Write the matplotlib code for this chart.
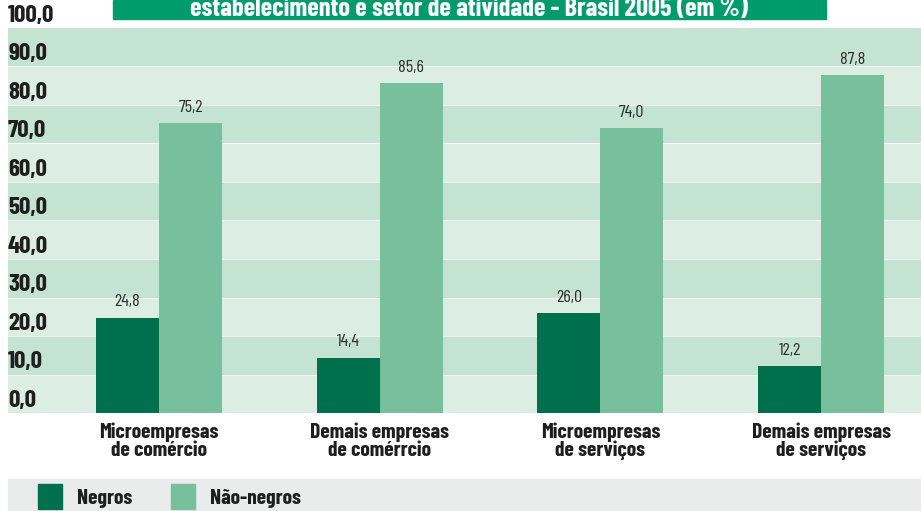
import matplotlib
matplotlib.use("Agg")
import matplotlib.pyplot as plt
from matplotlib.patches import Rectangle
from matplotlib import font_manager

categories = ["Microempresas\nde comércio", "Demais empresas\nde comérrcio",
              "Microempresas\nde serviços", "Demais empresas\nde serviços"]
negros = [24.8, 14.4, 26.0, 12.2]
nao_negros = [75.2, 85.6, 74.0, 87.8]
yticks = [0, 10, 20, 30, 40, 50, 60, 70, 80, 90, 100]
title = "estabelecimento e setor de atividade - Brasil 2005 (em %)"

# condensed face if there is one, else shrink DejaVu a bit
names = {f.name for f in font_manager.fontManager.ttflist}
if "Barlow Condensed" in names:
    plt.rcParams["font.family"] = ["Barlow Condensed", "DejaVu Sans"]
    k = 1.0
else:
    plt.rcParams["font.family"] = ["DejaVu Sans"]
    k = 0.72

c_neg = "#006f4b"
c_nao = "#78bf9e"
band_dark = "#c5e3d2"
band_light = "#dcede3"
ink = "#1e1e1e"

W, H = 921, 511
fig = plt.figure(figsize=(W / 100, H / 100), dpi=100)
fig.patch.set_facecolor("white")

# plot area: y=0 at 413px, y=100 at 28px, left edge at 8px
ax = fig.add_axes([8 / W, (H - 413) / H, (W - 8) / W, (413 - 28) / H])
ax.set_ylim(0, 100)
ax.set_xlim(-0.684, 3.453)
ax.axis("off")

for lo in yticks[:-1]:
    ax.axhspan(lo, lo + 10, color=band_dark if (lo // 10) % 2 else band_light, lw=0, zorder=0)
    if lo:
        ax.axhline(lo, color="white", lw=0.6, alpha=0.7, zorder=0.5)

x = list(range(len(categories)))
w = 0.285
b1 = ax.bar([i - w / 2 for i in x], negros, w, color=c_neg, zorder=2)
b2 = ax.bar([i + w / 2 for i in x], nao_negros, w, color=c_nao, zorder=2)

for bars, vals in ((b1, negros), (b2, nao_negros)):
    for b, v in zip(bars, vals):
        ax.annotate(f"{v:.1f}".replace(".", ","), (b.get_x() + b.get_width() / 2, v),
                    xytext=(0, 6), textcoords="offset points", ha="center", va="bottom",
                    fontsize=13 * k, color="#2e2e2e", zorder=3)

for t in yticks:
    ax.text(0.0, t + 0.3, f"{t:.1f}".replace(".", ","), transform=ax.get_yaxis_transform(),
            ha="left", va="bottom", fontsize=18 * k, fontweight="bold", color=ink,
            zorder=3, clip_on=False)

for i, c in enumerate(categories):
    ax.text(i, -2.4, c, ha="center", va="top", fontsize=15.5 * k, fontweight="bold",
            color=ink, linespacing=0.92, clip_on=False)

# title banner, cut by the top edge as in the source
fig.patches.append(Rectangle((113 / W, (H - 19) / H), (826 - 113) / W, 19 / H,
                             transform=fig.transFigure, color="#009b6b", zorder=1))
fig.text(469 / W, (H - 16) / H, title, ha="center", va="baseline", fontsize=19 * k,
         fontweight="bold", color="white", zorder=2)

# legend strip
fig.patches.append(Rectangle((8 / W, 0), (W - 8) / W, 32 / H,
                             transform=fig.transFigure, color="#e9eceb", zorder=1))
for x0, col, lab in ((38, c_neg, "Negros"), (171, c_nao, "Não-negros")):
    fig.patches.append(Rectangle((x0 / W, 2 / H), 24 / W, 25 / H,
                                 transform=fig.transFigure, color=col, zorder=2))
    fig.text((x0 + 39) / W, 7 / H, lab, ha="left", va="baseline", fontsize=15.5 * k,
             fontweight="bold", color=ink, zorder=3)

fig.savefig("out.png", dpi=100)
